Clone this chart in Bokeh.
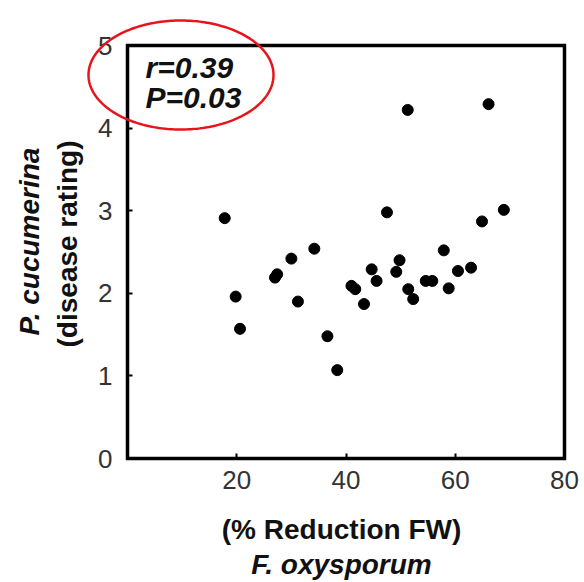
import numpy as np
from bokeh.plotting import figure
from bokeh.models import Range1d, Label, PolyAnnotation, ColumnDataSource
from bokeh.embed import file_html
from bokeh.resources import INLINE

# F. oxysporum (% reduction FW) vs P. cucumerina disease rating
reduction_fw = [51.3, 66.1, 17.8, 47.5, 68.9, 64.9, 34.2, 57.9, 30.0, 49.8,
                27.0, 27.4, 44.7, 49.2, 45.6, 60.5, 62.9, 41.0, 41.7, 54.6,
                55.8, 58.8, 51.4, 52.3, 19.8, 31.2, 43.3, 20.6, 36.6, 38.4]
disease_rating = [4.22, 4.29, 2.91, 2.98, 3.01, 2.87, 2.54, 2.52, 2.42, 2.40,
                  2.19, 2.23, 2.29, 2.26, 2.15, 2.27, 2.31, 2.09, 2.05, 2.15,
                  2.15, 2.06, 2.05, 1.93, 1.96, 1.90, 1.87, 1.57, 1.48, 1.07]
x_ticks = [20, 40, 60, 80]
y_ticks = [0, 1, 2, 3, 4, 5]
x_limits = [0, 80]
y_limits = [0, 5]
stats_lines = ["r=0.39", "P=0.03"]

FONT = "Liberation Sans"

# layout (pixels): plot box edges inside the 584x582 canvas
W, H = 584, 582
BOX_L, BOX_R, BOX_B, BOX_T = 127, 564, 458, 45
sx = (BOX_R - BOX_L) / (x_limits[1] - x_limits[0])
sy = (BOX_B - BOX_T) / (y_limits[1] - y_limits[0])
x_start = x_limits[0] - BOX_L / sx
y_end = y_limits[0] + BOX_B / sy


def dx(px):
    return x_limits[0] + (px - BOX_L) / sx


def dy(py):
    return y_limits[0] + (BOX_B - py) / sy


p = figure(width=W, height=H, title=None,
           x_range=Range1d(x_start, x_start + W / sx),
           y_range=Range1d(y_end - H / sy, y_end),
           output_backend="svg", toolbar_location=None, min_border=0)
p.grid.visible = False
p.background_fill_color = "white"
p.border_fill_color = "white"
p.outline_line_color = None

for ax in (p.xaxis, p.yaxis):
    ax.fixed_location = 0
    ax.axis_line_color = None
    ax.major_tick_in = 5
    ax.major_tick_out = 0
    ax.major_tick_line_width = 2
    ax.major_tick_line_color = "black"
    ax.minor_tick_line_color = None
    ax.major_label_text_font = FONT
    ax.major_label_text_font_size = "26px"
    ax.major_label_text_color = "#333333"

p.xaxis.ticker = x_ticks
p.yaxis.ticker = y_ticks
p.xaxis.major_label_standoff = 12
p.yaxis.major_label_standoff = 15

# plot box
p.quad(left=[x_limits[0]], right=[x_limits[1]], bottom=[y_limits[0]], top=[y_limits[1]],
       fill_color=None, line_color="black", line_width=3.5, line_join="miter")

src = ColumnDataSource(dict(x=reduction_fw, y=disease_rating))
p.scatter("x", "y", source=src, size=11, marker="circle",
          fill_color="black", line_color="black")

# statistics text
for i, t in enumerate(stats_lines):
    p.add_layout(Label(x=dx(145), y=dy(67 + 30 * i), text=t, text_font=FONT,
                       text_font_size="30px", text_font_style="bold italic",
                       text_color="#111111", text_baseline="middle",
                       text_align="left"))

# red ellipse annotation
th = np.linspace(0, 2 * np.pi, 240)
cx, cy = dx(180.5), dy(74.5)
a, b = 92.5 / sx, 54.5 / sy
p.add_layout(PolyAnnotation(xs=list(cx + a * np.cos(th)), ys=list(cy + b * np.sin(th)),
                            fill_alpha=0, line_color="#e8141c", line_alpha=1.0,
                            line_width=2.5))

# axis titles
p.add_layout(Label(x=dx(341), y=dy(529), text="(% Reduction FW)", text_font=FONT,
                   text_font_size="28px", text_font_style="bold",
                   text_color="#111111", text_align="center", text_baseline="middle"))
p.add_layout(Label(x=dx(341), y=dy(564), text="F. oxysporum", text_font=FONT,
                   text_font_size="28px", text_font_style="bold italic",
                   text_color="#111111", text_align="center", text_baseline="middle"))
p.add_layout(Label(x=dx(29), y=dy(241), text="P. cucumerina", text_font=FONT,
                   text_font_size="28px", text_font_style="bold italic",
                   text_color="#111111", text_align="center", text_baseline="middle",
                   angle=np.pi / 2))
p.add_layout(Label(x=dx(67), y=dy(243.5), text="(disease rating)", text_font=FONT,
                   text_font_size="28px", text_font_style="bold",
                   text_color="#111111", text_align="center", text_baseline="middle",
                   angle=np.pi / 2))

open("out.html", "w").write(file_html(p, INLINE))
